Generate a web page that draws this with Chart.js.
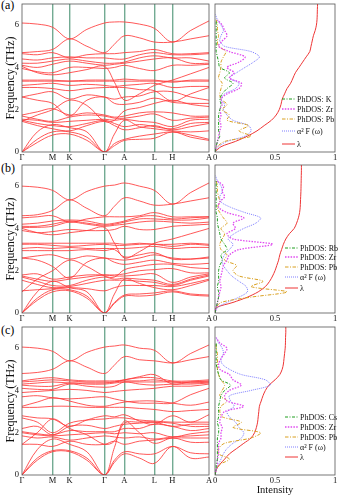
<!DOCTYPE html>
<html>
<head>
<meta charset="utf-8">
<script src="https://cdn.jsdelivr.net/npm/chart.js@4.4.1/dist/chart.umd.min.js"></script>
<style>
  body { margin: 0; background: #fff; width: 339px; height: 497px; position: relative; overflow: hidden; font-family: 'Liberation Serif', serif; }
  .box { position: absolute; }
  .tag { position: absolute; font-size: 12px; line-height: 12px; color: #000; }
</style>
</head>
<body>
<div class="tag" style="left:1px;top:-1px">(a)</div>
<div class="tag" style="left:1px;top:162px">(b)</div>
<div class="tag" style="left:1px;top:324px">(c)</div>

<div class="box" style="left:0;top:0;width:212px;height:163px"><canvas id="bandA"></canvas></div>
<div class="box" style="left:212px;top:0;width:127px;height:163px"><canvas id="dosA"></canvas></div>
<div class="box" style="left:0;top:161px;width:212px;height:163px"><canvas id="bandB"></canvas></div>
<div class="box" style="left:212px;top:161px;width:127px;height:163px"><canvas id="dosB"></canvas></div>
<div class="box" style="left:0;top:323px;width:212px;height:163px"><canvas id="bandC"></canvas></div>
<div class="box" style="left:212px;top:323px;width:127px;height:174px"><canvas id="dosC"></canvas></div>

<script>
// k-path positions (path length units) and high symmetry labels
const kPos = [0, 15.3, 30.6, 47.6, 65, 82.6, 92.6, 102.6, 117.6, 132.6, 150.6, 169, 187.3];
const kTickPos = [0, 30.6, 47.6, 82.6, 102.6, 132.6, 150.6, 187.3];
const kLabels = ['Γ', 'M', 'K', 'Γ', 'A', 'L', 'H', 'A'];
const freqTicks = [0, 2, 4, 6];

// phonon bands (THz) at kPos, panel (a)
const bandsA = [
  [0, 0.45, 0.8, 0.85, 0.55, 0, 0.3, 0.55, 0.6, 0.65, 0.95, 0.7, 0.55],
  [0, 0.6, 0.95, 0.95, 0.7, 0, 0.4, 0.6, 0.75, 0.85, 0.95, 0.8, 0.6],
  [0, 0.95, 1.3, 1.15, 0.95, 0, 0.85, 1.5, 1.2, 1.1, 1.0, 0.95, 1.0],
  [1.45, 1.25, 1.1, 1.0, 1.25, 1.45, 1.25, 1.05, 1.15, 1.25, 1.05, 1.2, 1.35],
  [1.5, 1.35, 1.25, 1.2, 1.35, 1.5, 1.35, 1.2, 1.3, 1.2, 1.1, 1.35, 1.4],
  [1.55, 1.5, 1.4, 1.45, 1.5, 1.55, 1.5, 1.55, 1.45, 1.4, 1.2, 1.5, 1.55],
  [1.7, 1.55, 1.45, 1.65, 1.75, 1.7, 1.6, 1.6, 1.7, 1.8, 1.5, 1.6, 1.65],
  [1.75, 1.9, 2.05, 1.75, 1.85, 1.75, 1.65, 1.7, 1.85, 1.9, 1.85, 1.7, 1.7],
  [1.45, 1.75, 2.0, 2.45, 2.2, 1.45, 1.5, 1.95, 2.1, 2.3, 2.45, 2.25, 2.15],
  [2.6, 2.45, 2.3, 1.7, 2.45, 2.6, 2.3, 2.25, 2.35, 2.55, 2.35, 2.3, 2.3],
  [2.6, 2.75, 2.85, 2.5, 2.7, 2.6, 2.5, 2.6, 2.65, 2.85, 2.85, 2.6, 2.45],
  [3.05, 3.05, 3.0, 2.9, 3.0, 3.05, 3.05, 3.05, 2.95, 2.9, 2.4, 2.75, 3.05],
  [3.15, 3.2, 3.25, 3.15, 3.2, 3.15, 3.1, 3.15, 3.2, 3.25, 3.05, 3.1, 3.1],
  [3.35, 3.35, 3.35, 3.35, 3.35, 3.35, 3.35, 3.35, 3.35, 3.35, 3.35, 3.35, 3.35],
  [3.4, 3.4, 3.4, 3.35, 3.4, 3.4, 3.4, 3.45, 3.4, 3.4, 3.3, 3.4, 3.4],
  [4.05, 3.75, 3.65, 3.75, 3.9, 4.05, 3.3, 2.45, 2.75, 3.15, 3.4, 3.7, 4.0],
  [3.95, 3.8, 3.75, 4.0, 4.0, 3.95, 4.0, 4.1, 3.95, 3.85, 4.1, 4.1, 4.15],
  [4.1, 4.0, 4.15, 4.3, 4.2, 4.1, 4.15, 4.2, 4.3, 4.4, 4.45, 4.2, 4.2],
  [4.2, 4.2, 4.3, 4.4, 4.3, 4.2, 4.2, 4.25, 4.45, 4.55, 4.45, 4.45, 4.3],
  [4.4, 4.35, 4.45, 4.5, 4.45, 4.45, 4.4, 4.4, 4.6, 4.7, 4.6, 4.6, 4.65],
  [4.65, 4.6, 4.7, 4.45, 4.6, 4.65, 4.65, 4.7, 4.75, 4.85, 4.65, 4.65, 4.7],
  [4.7, 4.75, 4.85, 5.35, 5.0, 4.7, 5.1, 5.5, 5.4, 5.2, 5.2, 5.35, 5.5],
  [6.1, 6.05, 5.9, 5.35, 5.8, 6.1, 6.15, 6.15, 6.05, 5.85, 5.2, 5.75, 6.2]
];

// panel (b)
const bandsB = [
  [0, 0.6, 1.0, 1.05, 0.7, 0, 0.45, 0.8, 0.8, 0.85, 1.0, 0.85, 0.8],
  [0, 0.7, 1.1, 1.1, 0.8, 0, 0.5, 0.85, 0.9, 0.95, 1.05, 0.9, 0.85],
  [0, 1.0, 1.5, 1.2, 1.0, 0, 0.9, 1.6, 1.4, 1.2, 1.1, 1.3, 1.55],
  [1.05, 1.1, 1.15, 1.2, 1.15, 1.05, 1.2, 1.3, 1.3, 1.3, 1.25, 1.4, 1.6],
  [1.55, 1.35, 1.2, 1.25, 1.4, 1.55, 1.55, 1.55, 1.5, 1.45, 1.3, 1.55, 1.75],
  [1.7, 1.5, 1.3, 1.3, 1.55, 1.7, 1.6, 1.65, 1.6, 1.55, 1.35, 1.6, 1.8],
  [1.75, 1.6, 1.5, 1.6, 1.7, 1.8, 1.75, 1.75, 1.8, 1.85, 1.45, 1.7, 1.85],
  [1.8, 1.85, 1.6, 1.7, 1.8, 1.8, 1.8, 1.85, 2.0, 2.05, 2.1, 1.9, 1.9],
  [1.0, 1.6, 2.0, 2.5, 2.2, 1.75, 1.7, 2.05, 2.2, 2.3, 2.3, 2.15, 2.1],
  [2.6, 2.5, 2.2, 1.65, 2.4, 2.6, 2.4, 2.3, 2.4, 2.5, 2.35, 2.3, 2.35],
  [2.6, 2.7, 2.75, 2.55, 2.7, 2.6, 2.55, 2.5, 2.6, 2.75, 2.6, 2.55, 2.6],
  [2.95, 2.95, 2.95, 2.95, 3.0, 2.95, 3.0, 2.65, 2.75, 2.85, 2.55, 2.55, 2.65],
  [3.05, 3.1, 3.05, 3.1, 3.05, 3.05, 3.05, 3.05, 3.1, 3.15, 3.05, 3.1, 3.1],
  [3.25, 3.25, 3.2, 3.15, 3.2, 3.25, 3.2, 3.2, 3.25, 3.25, 3.15, 3.25, 3.2],
  [3.3, 3.3, 3.3, 3.3, 3.3, 3.3, 3.3, 3.25, 3.3, 3.25, 3.25, 3.3, 3.25],
  [4.0, 3.8, 3.7, 3.8, 3.9, 4.05, 3.3, 2.6, 2.9, 3.3, 3.5, 3.75, 4.0],
  [3.9, 3.8, 3.85, 3.95, 3.9, 3.9, 3.95, 4.1, 3.95, 3.95, 4.1, 4.15, 4.2],
  [4.05, 4.05, 4.1, 4.3, 4.2, 4.1, 4.15, 4.2, 4.3, 4.35, 4.3, 4.25, 4.3],
  [4.1, 4.1, 4.2, 4.35, 4.25, 4.15, 4.2, 4.3, 4.45, 4.45, 4.4, 4.4, 4.5],
  [4.2, 4.25, 4.35, 4.4, 4.35, 4.2, 4.25, 4.35, 4.55, 4.6, 4.45, 4.5, 4.55],
  [4.5, 4.55, 4.6, 4.3, 4.45, 4.55, 4.55, 4.55, 4.6, 4.75, 4.55, 4.55, 4.55],
  [4.6, 4.65, 4.85, 5.35, 4.95, 4.6, 5.05, 5.45, 5.3, 5.1, 5.15, 5.3, 5.45],
  [6.0, 5.95, 5.8, 5.35, 5.75, 6.0, 6.05, 6.15, 6.0, 5.8, 5.15, 5.7, 6.15]
];

// panel (c)
const bandsC = [
  [0, 0.7, 1.1, 1.1, 0.7, 0, 0.6, 1.0, 0.8, 0.55, 1.35, 0.8, 0.85],
  [0, 0.8, 1.15, 1.15, 0.8, 0, 0.7, 1.1, 1.0, 1.0, 1.35, 1.05, 1.0],
  [0, 1.2, 1.7, 1.45, 1.1, 0, 1.3, 2.55, 2.0, 1.5, 1.75, 1.55, 1.55],
  [1.45, 1.45, 1.35, 1.6, 1.45, 1.45, 1.6, 1.45, 1.6, 1.65, 1.75, 1.75, 1.75],
  [1.85, 1.75, 1.8, 1.65, 1.75, 1.85, 1.8, 1.75, 1.8, 1.7, 1.8, 1.85, 1.9],
  [2.0, 1.9, 1.85, 1.9, 1.95, 2.0, 1.95, 2.0, 1.95, 2.0, 1.8, 1.95, 2.05],
  [2.05, 1.95, 1.9, 2.1, 2.05, 2.05, 2.05, 2.2, 2.2, 2.4, 2.3, 2.1, 2.2],
  [2.2, 2.3, 1.9, 2.3, 2.35, 2.2, 2.3, 2.4, 2.45, 2.5, 2.45, 2.3, 2.3],
  [1.45, 2.0, 2.65, 2.2, 1.9, 1.45, 1.6, 2.45, 2.5, 2.5, 2.3, 2.4, 2.4],
  [2.7, 2.5, 2.0, 2.45, 2.6, 2.65, 2.7, 2.7, 2.6, 2.55, 2.5, 2.5, 2.5],
  [2.8, 2.7, 2.65, 2.3, 2.6, 2.8, 2.75, 2.85, 2.55, 2.4, 2.8, 2.5, 2.85],
  [3.2, 3.2, 3.25, 3.25, 3.2, 3.2, 3.2, 3.2, 3.15, 3.1, 3.0, 3.05, 3.1],
  [3.25, 3.45, 3.65, 3.5, 3.3, 3.25, 3.35, 3.45, 3.5, 3.5, 3.4, 3.3, 3.45],
  [3.7, 3.75, 3.65, 3.6, 3.65, 3.7, 3.6, 3.5, 3.4, 3.4, 3.4, 3.8, 4.1],
  [3.9, 3.95, 4.0, 4.05, 4.0, 3.9, 3.95, 4.0, 4.05, 4.1, 4.2, 4.2, 4.3],
  [4.1, 4.05, 4.05, 4.3, 4.2, 4.15, 4.2, 4.4, 4.3, 4.25, 4.3, 4.3, 4.35],
  [4.25, 4.2, 4.2, 4.35, 4.3, 4.3, 4.35, 4.4, 4.4, 4.4, 4.4, 4.35, 4.4],
  [4.3, 4.35, 4.4, 4.35, 4.35, 4.35, 4.4, 4.45, 4.45, 4.5, 4.4, 4.4, 4.45],
  [4.4, 4.45, 4.5, 4.45, 4.4, 4.4, 4.4, 4.5, 4.6, 4.6, 4.45, 4.45, 4.5],
  [4.45, 4.55, 4.6, 4.5, 4.45, 4.45, 4.45, 4.5, 4.65, 4.75, 4.3, 4.4, 4.4],
  [4.8, 4.85, 5.0, 5.4, 5.1, 4.8, 5.2, 5.6, 5.45, 5.4, 5.3, 5.45, 5.6],
  [6.05, 6.0, 5.85, 5.4, 5.8, 6.05, 6.1, 6.15, 6.0, 5.9, 5.3, 5.75, 6.15]
];

// DOS frequency grid (THz)
const freqGrid = [0, 0.25, 0.5, 0.75, 1, 1.25, 1.5, 1.75, 2, 2.25, 2.5, 2.75, 3, 3.25, 3.5, 3.75, 4, 4.25, 4.5, 4.75, 5, 5.25, 5.5, 5.75, 6, 6.25, 6.5, 6.75, 7];

// panel (a) DOS
const dosA_K  = [0, .01, .02, .04, .03, .03, .03, .03, .04, .05, .04, .06, .1, .15, .08, .12, .04, .03, .02, .01, .01, .01, .01, .01, .01, .01, null, null, null];
const dosA_Zr = [0, .01, .02, .03, .04, .05, .04, .05, .04, .06, .05, .1, .2, .22, .12, .16, .1, .2, .25, .12, .03, .06, .1, .08, .06, .02, null, null, null];
const dosA_Pb = [0, .02, .08, .3, .2, .28, .1, .12, .06, .1, .05, .04, .05, .06, .03, .04, .05, .05, .07, .09, .03, .02, .03, .02, .02, .01, null, null, null];
const a2fA    = [0, .03, .1, .25, .3, .28, .15, .1, .07, .08, .05, .08, .17, .2, .12, .18, .25, .32, .37, .3, .08, .04, .05, .07, .05, .02, .005, null, null];
const lamA    = [0, .05, .17, .27, .35, .41, .47, .51, .535, .55, .56, .58, .6, .63, .65, .67, .7, .73, .76, .79, .8, .81, .82, .835, .845, .85, .852, .853, .855];

// panel (b) DOS
const dosB_Rb = [0, .01, .02, .03, .03, .02, .03, .03, .03, .04, .06, .05, .1, .08, .05, .04, .03, .02, .02, .01, .01, .01, .01, .01, .01, .01, null, null, null];
const dosB_Zr = [0, .01, .02, .03, .04, .05, .04, .05, .06, .07, .1, .12, .2, .48, .15, .1, .17, .15, .24, .1, .03, .04, .08, .06, .07, .02, null, null, null];
const dosB_Pb = [0, .01, .05, .3, .6, .3, .4, .2, .15, .18, .08, .1, .05, .04, .06, .08, .05, .1, .07, .04, .02, .04, .03, .02, .02, .01, null, null, null];
const a2fB    = [0, .02, .1, .2, .27, .26, .2, .14, .1, .07, .06, .08, .12, .15, .11, .16, .24, .34, .38, .25, .13, .05, .04, .06, .05, .02, .005, null, null];
const lamB    = [0, .01, .15, .27, .36, .42, .455, .48, .5, .515, .53, .54, .555, .57, .59, .62, .66, .68, .695, .705, .71, .712, .714, .716, .717, .718, .719, .72, .72];

// panel (c) DOS
const dosC_Cs = [0, .01, .01, .02, .02, .02, .02, .02, .03, .03, .02, .03, .03, .03, .04, .05, .08, .13, .05, .03, .02, .01, .01, .01, .01, .01, null, null, null];
const dosC_Zr = [0, .01, .02, .02, .03, .03, .03, .05, .05, .06, .04, .05, .08, .24, .1, .08, .12, .22, .15, .12, .04, .03, .05, .08, .1, .04, .01, null, null];
const dosC_Pb = [0, .01, .04, .12, .03, .03, .08, .3, .38, .15, .22, .06, .04, .05, .1, .04, .06, .08, .05, .03, .02, .02, .02, .02, .01, .01, null, null, null];
const a2fC    = [0, .01, .03, .05, .07, .1, .15, .22, .24, .2, .17, .12, .1, .16, .13, .12, .3, .46, .42, .22, .12, .06, .05, .07, .06, .03, .01, null, null];
const lamC    = [0, .01, .04, .08, .12, .18, .24, .3, .33, .345, .355, .36, .365, .37, .385, .4, .42, .45, .5, .54, .56, .57, .575, .58, .585, .587, .588, .59, .59];

Chart.defaults.font.family = "'Liberation Serif', 'Times New Roman', serif";
Chart.defaults.color = '#111';

// black box around the plot area
const frame = {
  id: 'frame',
  afterDatasetsDraw(chart) {
    const a = chart.chartArea, ctx = chart.ctx;
    ctx.save();
    ctx.strokeStyle = '#555';
    ctx.lineWidth = 0.8;
    ctx.strokeRect(a.left, a.top, a.right - a.left, a.bottom - a.top);
    ctx.restore();
  }
};

// legend drawn inside the DOS panel
const dosLegend = {
  id: 'dosLegend',
  afterDatasetsDraw(chart, args, opts) {
    const a = chart.chartArea, ctx = chart.ctx;
    ctx.save();
    chart.data.datasets.forEach((ds, i) => {
      const y = a.top + opts.rows[i];
      const x0 = a.left + opts.left;
      ctx.strokeStyle = ds.borderColor;
      ctx.lineWidth = ds.borderWidth;
      ctx.setLineDash(ds.borderDash || []);
      ctx.beginPath();
      ctx.moveTo(x0, y);
      ctx.lineTo(x0 + 13, y);
      ctx.stroke();
      ctx.setLineDash([]);
      ctx.fillStyle = '#111';
      ctx.font = "8px 'Liberation Serif'";
      ctx.textBaseline = 'middle';
      ctx.fillText(ds.label, x0 + 15, y + 0.5);
    });
    ctx.restore();
  }
};

function bandChart(id, bands) {
  new Chart(document.getElementById(id), {
    type: 'scatter',
    data: {
      datasets: bands.map(b => ({
        data: b.map((v, i) => ({ x: kPos[i], y: v })),
        showLine: true,
        borderColor: '#ff3a3a',
        borderWidth: 0.85,
        pointRadius: 0,
        tension: 0.35
      }))
    },
    options: {
      responsive: true,
      maintainAspectRatio: false,
      animation: false,
      layout: { padding: { left: 0, top: 4, right: 3, bottom: 0 } },
      plugins: { legend: { display: false }, tooltip: { enabled: false } },
      scales: {
        x: {
          type: 'linear', min: 0, max: 187.3,
          afterBuildTicks: s => { s.ticks = kTickPos.map(v => ({ value: v })); },
          afterFit: s => { s.height = 11; s.paddingLeft = 0; s.paddingRight = 0; },
          ticks: { autoSkip: false, maxRotation: 0, padding: 1, font: { size: 8.5 },
                   callback: (v, i) => kLabels[i] },
          grid: {
            drawTicks: false,
            lineWidth: 1.4,
            color: c => (c.index === 0 || c.index === kTickPos.length - 1) ? 'rgba(0,0,0,0)' : 'rgba(80,150,120,0.8)'
          },
          border: { display: false }
        },
        y: {
          min: 0, max: 7,
          afterBuildTicks: s => { s.ticks = freqTicks.map(v => ({ value: v })); },
          afterFit: s => { s.width = 22; s.paddingTop = 0; s.paddingBottom = 0; },
          ticks: { padding: 3, font: { size: 8.5 } },
          grid: { display: false, drawTicks: false },
          border: { display: false },
          title: { display: true, text: 'Frequency (THz)', font: { size: 12 }, padding: { top: 4, bottom: 0 } }
        }
      }
    },
    plugins: [frame]
  });
}

function dosChart(id, series, names, rows, left, withTitle) {
  const styles = [
    { color: '#1f9e1f', width: 1, dash: [3, 1.5, 1, 1.5] },
    { color: '#e04af0', width: 1.3, dash: [1.5, 1.3] },
    { color: '#d9a020', width: 1, dash: [3.5, 1.5, 1, 1.5] },
    { color: '#7070ff', width: 0.9, dash: [1, 1] },
    { color: '#ee3535', width: 1, dash: [] }
  ];
  new Chart(document.getElementById(id), {
    type: 'scatter',
    data: {
      datasets: series.map((vals, k) => ({
        label: names[k],
        data: freqGrid.map((f, i) => ({ x: vals[i], y: f })).filter(p => p.x !== null),
        showLine: true,
        borderColor: styles[k].color,
        borderWidth: styles[k].width,
        borderDash: styles[k].dash,
        pointRadius: 0,
        tension: 0.3
      }))
    },
    options: {
      responsive: true,
      maintainAspectRatio: false,
      animation: false,
      layout: { padding: { left: 3, top: 4, right: 4, bottom: 0 } },
      plugins: { legend: { display: false }, tooltip: { enabled: false }, dosLegend: { rows: rows, left: left } },
      scales: {
        x: {
          type: 'linear', min: 0, max: 1,
          afterFit: s => { s.height = withTitle ? 22 : 11; s.paddingLeft = 0; s.paddingRight = 0; },
          ticks: { stepSize: 0.5, padding: 1, font: { size: 8.5 }, callback: v => String(v) },
          grid: { display: false, drawTicks: false },
          border: { display: false },
          title: { display: withTitle, text: 'Intensity', font: { size: 10.5 }, padding: { top: 0, bottom: 0 } }
        },
        y: { min: 0, max: 7, display: false }
      }
    },
    plugins: [frame, dosLegend]
  });
}

bandChart('bandA', bandsA);
bandChart('bandB', bandsB);
bandChart('bandC', bandsC);

dosChart('dosA', [dosA_K, dosA_Zr, dosA_Pb, a2fA, lamA],
  ['PhDOS: K', 'PhDOS: Zr', 'PhDOS: Pb', 'α² F (ω)', 'λ'], [95, 105, 115, 127, 140], 67, false);
dosChart('dosB', [dosB_Rb, dosB_Zr, dosB_Pb, a2fB, lamB],
  ['PhDOS: Rb', 'PhDOS: Zr', 'PhDOS: Pb', 'α² F (ω)', 'λ'], [83, 92, 102, 112, 123], 70, false);
dosChart('dosC', [dosC_Cs, dosC_Zr, dosC_Pb, a2fC, lamC],
  ['PhDOS: Cs', 'PhDOS: Zr', 'PhDOS: Pb', 'α² F (ω)', 'λ'], [90, 100, 110, 120, 130], 70, true);
</script>
</body>
</html>
